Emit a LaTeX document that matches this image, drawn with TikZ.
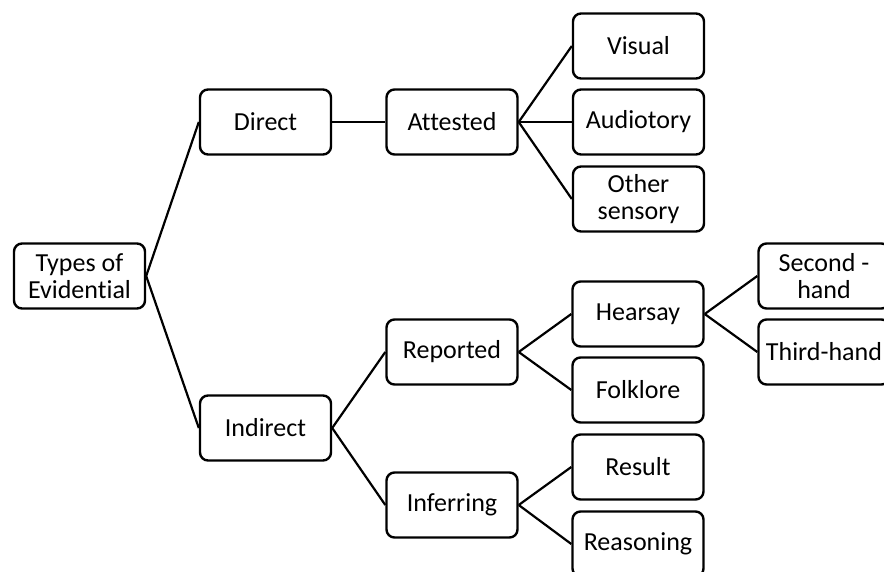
\documentclass[tikz,border=0pt]{standalone}
\usepackage{fontspec}
\setmainfont{Carlito}[Ligatures=CommonOff]
\usepackage{tikz}

\tikzset{
	box/.style={shape=rectangle, rounded corners=8pt, draw=black, line width=2.4pt, fill=white,
		minimum width=131pt, minimum height=65pt, align=center, inner sep=2pt,
		font=\fontsize{26}{27.5}\selectfont},
	link/.style={line width=2.2pt}
}

\begin{document}
\begin{tikzpicture}[x=1pt, y=-1pt]
	\useasboundingbox (0,0) rectangle (884,571);
	\clip (0,0) rectangle (884,571);

	\node[box] (types)     at (79.5, 276)  {Types of\\Evidential};
	\node[box] (direct)    at (265.5, 122) {Direct};
	\node[box] (indirect)  at (265.5, 428) {Indirect};
	\node[box] (attested)  at (452, 122)   {Attested};
	\node[box] (reported)  at (452, 352)   {Reported};
	\node[box] (inferring) at (452, 505)   {Inferring};
	\node[box] (visual)    at (638.5, 46)  {Visual};
	\node[box] (auditory)  at (638.5, 122) {Audiotory};
	\node[box] (other)     at (638.5, 199) {Other\\sensory};
	\node[box] (hearsay)   at (638, 314)   {Hearsay};
	\node[box] (folklore)  at (638, 390)   {Folklore};
	\node[box] (result)    at (638, 467)   {Result};
	\node[box] (reasoning) at (638, 544)   {Reasoning};
	\node[box] (second)    at (824, 276)   {Second -\\hand};
	\node[box] (third)     at (824, 352)   {Third-hand};

	\draw[link] (types.east) -- (direct.west);
	\draw[link] (types.east) -- (indirect.west);
	\draw[link] (direct.east) -- (attested.west);
	\draw[link] (attested.east) -- (visual.west);
	\draw[link] (attested.east) -- (auditory.west);
	\draw[link] (attested.east) -- (other.west);
	\draw[link] (indirect.east) -- (reported.west);
	\draw[link] (indirect.east) -- (inferring.west);
	\draw[link] (reported.east) -- (hearsay.west);
	\draw[link] (reported.east) -- (folklore.west);
	\draw[link] (inferring.east) -- (result.west);
	\draw[link] (inferring.east) -- (reasoning.west);
	\draw[link] (hearsay.east) -- (second.west);
	\draw[link] (hearsay.east) -- (third.west);
\end{tikzpicture}
\end{document}
